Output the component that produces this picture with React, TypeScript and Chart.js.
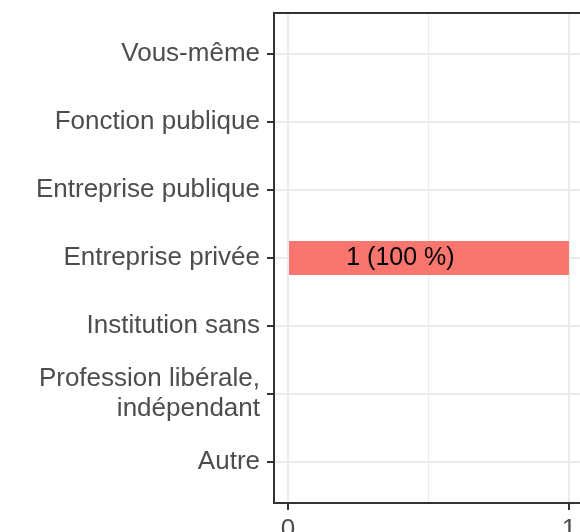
import React, { useEffect, useRef } from 'react';
import { Chart, registerables } from 'chart.js';

Chart.register(...registerables);

const categories: (string | string[])[] = [
  'Vous-même',
  'Fonction publique',
  'Entreprise publique',
  'Entreprise privée',
  'Institution sans',
  ['Profession libérale,', 'indépendant'],
  'Autre',
];
const counts = [0, 0, 0, 1, 0, 0, 0];
const barLabels = ['', '', '', '1 (100 %)', '', '', ''];
const labelPositions = [0, 0, 0, 0.4, 0, 0, 0];
const xTickValues = [0, 0.5, 1];
const xTickLabels = ['0', '', '1'];

const FONT = '"Liberation Sans", Arial, Helvetica, sans-serif';

const panelPlugin = {
  id: 'panelPlugin',
  afterDatasetsDraw(chart: any) {
    const { ctx, chartArea: a, scales } = chart;
    ctx.save();
    ctx.font = `25px ${FONT}`;
    ctx.fillStyle = '#000000';
    ctx.textAlign = 'center';
    ctx.textBaseline = 'middle';
    barLabels.forEach((t, i) => {
      if (!t) return;
      ctx.fillText(t, scales.x.getPixelForValue(labelPositions[i]), scales.y.getPixelForValue(i));
    });
    ctx.strokeStyle = '#333333';
    ctx.lineWidth = 2;
    ctx.strokeRect(a.left, a.top, a.right - a.left, a.bottom - a.top);
    ctx.restore();
  },
};

export default function App() {
  const ref = useRef<HTMLCanvasElement | null>(null);
  useEffect(() => {
    if (!ref.current) return;
    const chart = new Chart(ref.current, {
      type: 'bar',
      data: {
        datasets: [
          {
            data: counts.map((v, i) => ({ x: v, y: i })) as any,
            backgroundColor: '#F8766D',
            borderWidth: 0,
            categoryPercentage: 1,
            barPercentage: 0.5,
          },
        ],
      },
      options: {
        indexAxis: 'y',
        animation: false,
        responsive: false,
        maintainAspectRatio: false,
        layout: { padding: { top: 13, right: 17, left: 0, bottom: 0 } },
        plugins: { legend: { display: false }, tooltip: { enabled: false } },
        scales: {
          x: {
            type: 'linear',
            min: -0.05,
            max: 1.05,
            offset: false,
            afterBuildTicks: (s: any) => {
              s.ticks = xTickValues.map((v) => ({ value: v }));
            },
            afterFit: (s: any) => {
              s.height = 29;
              s.paddingLeft = 0;
              s.paddingRight = 0;
            },
            border: { display: false },
            grid: {
              offset: false,
              color: '#EBEBEB',
              lineWidth: (c: any) => (c.tick && c.tick.value === 0.5 ? 1.2 : 2),
              tickColor: (c: any) => (c.tick && c.tick.value === 0.5 ? 'rgba(0,0,0,0)' : '#333333'),
              tickWidth: 2,
              tickLength: 7,
            },
            ticks: {
              autoSkip: false,
              maxRotation: 0,
              padding: 4,
              color: '#4D4D4D',
              font: { family: FONT, size: 26 },
              callback: (_v: any, i: number) => xTickLabels[i],
            },
          },
          y: {
            type: 'linear',
            reverse: true,
            min: -0.6,
            max: 6.6,
            offset: false,
            afterBuildTicks: (s: any) => {
              s.ticks = categories.map((_c, i) => ({ value: i }));
            },
            afterFit: (s: any) => {
              s.width = 274;
              s.paddingTop = 0;
              s.paddingBottom = 0;
            },
            border: { display: false },
            grid: {
              offset: false,
              color: '#EBEBEB',
              lineWidth: 2,
              tickColor: '#333333',
              tickWidth: 2,
              tickLength: 7,
            },
            ticks: {
              autoSkip: false,
              padding: 7,
              color: '#4D4D4D',
              font: { family: FONT, size: 26, lineHeight: 1.15 },
              callback: (_v: any, i: number) => categories[i] as any,
            },
          },
        },
      },
      plugins: [panelPlugin],
    });
    return () => chart.destroy();
  }, []);

  return (
    <div style={{ position: 'fixed', left: 0, top: 0, width: 580, height: 532, overflow: 'hidden', background: '#fff' }}>
      <canvas ref={ref} width={600} height={532} style={{ display: 'block', width: 600, height: 532 }} />
    </div>
  );
}
